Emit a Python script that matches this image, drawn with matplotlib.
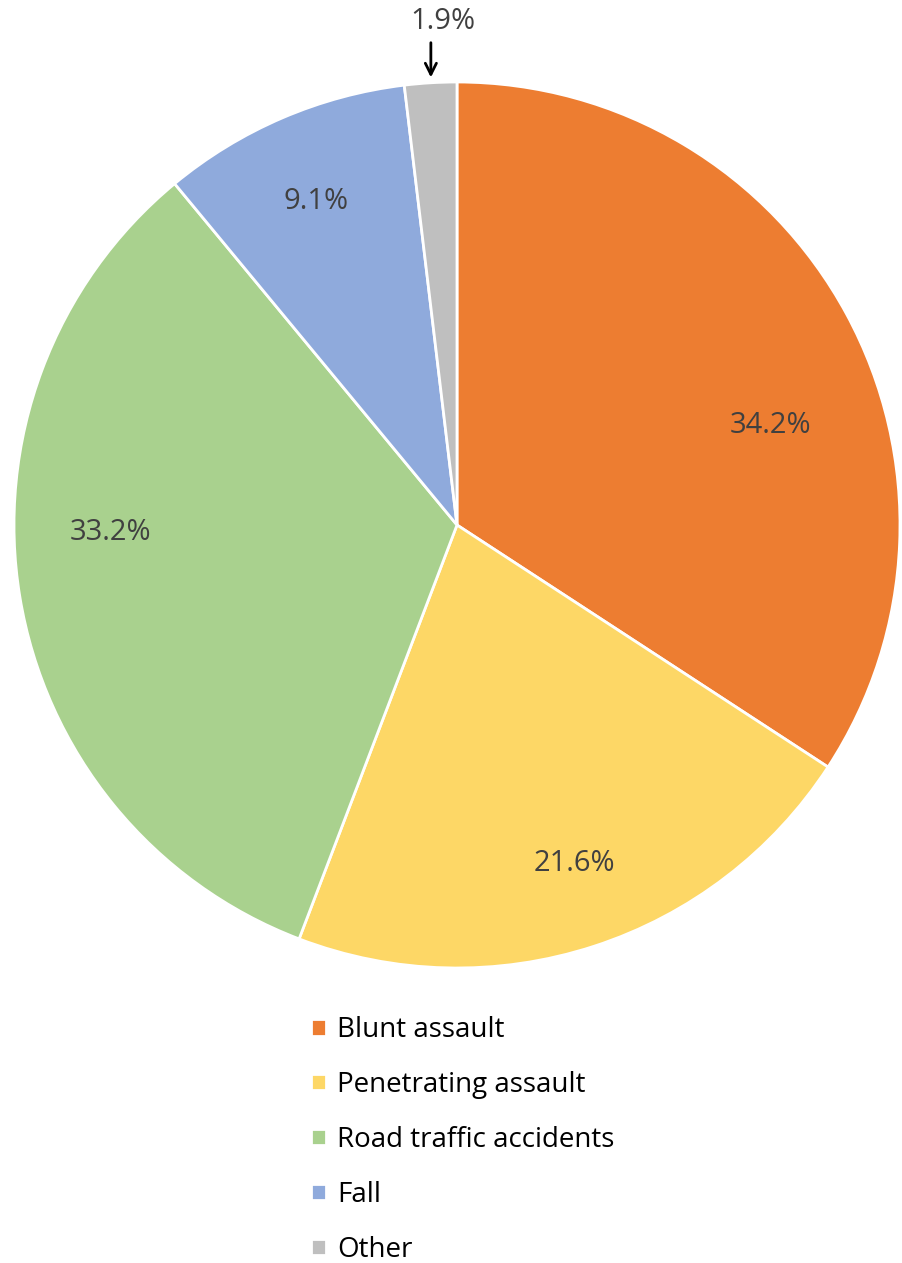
import matplotlib
matplotlib.use('Agg')
import matplotlib.pyplot as plt

categories = ['Blunt assault', 'Penetrating assault', 'Road traffic accidents', 'Fall', 'Other']
shares = [34.2, 21.6, 33.2, 9.1, 1.9]
colors = ['#ED7D31', '#FDD766', '#A9D18E', '#8FAADC', '#BFBFBF']

# where the percent labels sit (axes units, radius 1)
label_pos = [(0.707, 0.225), (0.266, -0.765), (-0.783, -0.018), (-0.318, 0.731), (-0.032, 1.136)]

plt.rcParams['font.family'] = ['Open Sans', 'DejaVu Sans']

fig = plt.figure(figsize=(9.02, 12.63), dpi=100)
ax = fig.add_axes([14/902, 295/1263, 886/902, 886/1263])

wedges, _ = ax.pie(shares, colors=colors, startangle=90, counterclock=False,
                   radius=1, wedgeprops=dict(edgecolor='white', linewidth=2))
ax.set_xlim(-1, 1)
ax.set_ylim(-1, 1)
ax.set_aspect('equal')
ax.axis('off')

for v, (x, y) in zip(shares, label_pos):
    ax.text(x, y, f'{v}%', ha='center', va='center', fontsize=21, color='#404040', clip_on=False)

# arrow for the small slice
ax.annotate('', xy=(-0.059, 1.004), xytext=(-0.059, 1.095),
            arrowprops=dict(arrowstyle='->', color='black', lw=2, mutation_scale=20),
            annotation_clip=False)

fig.legend(wedges, categories, loc='upper left', bbox_to_anchor=(311/902, 1 - 1016/1263),
           frameon=False, fontsize=20, handlelength=0.55, handleheight=0.55,
           handletextpad=0.4, labelspacing=0.97, borderpad=0, borderaxespad=0)

fig.savefig('out.png', dpi=100)
